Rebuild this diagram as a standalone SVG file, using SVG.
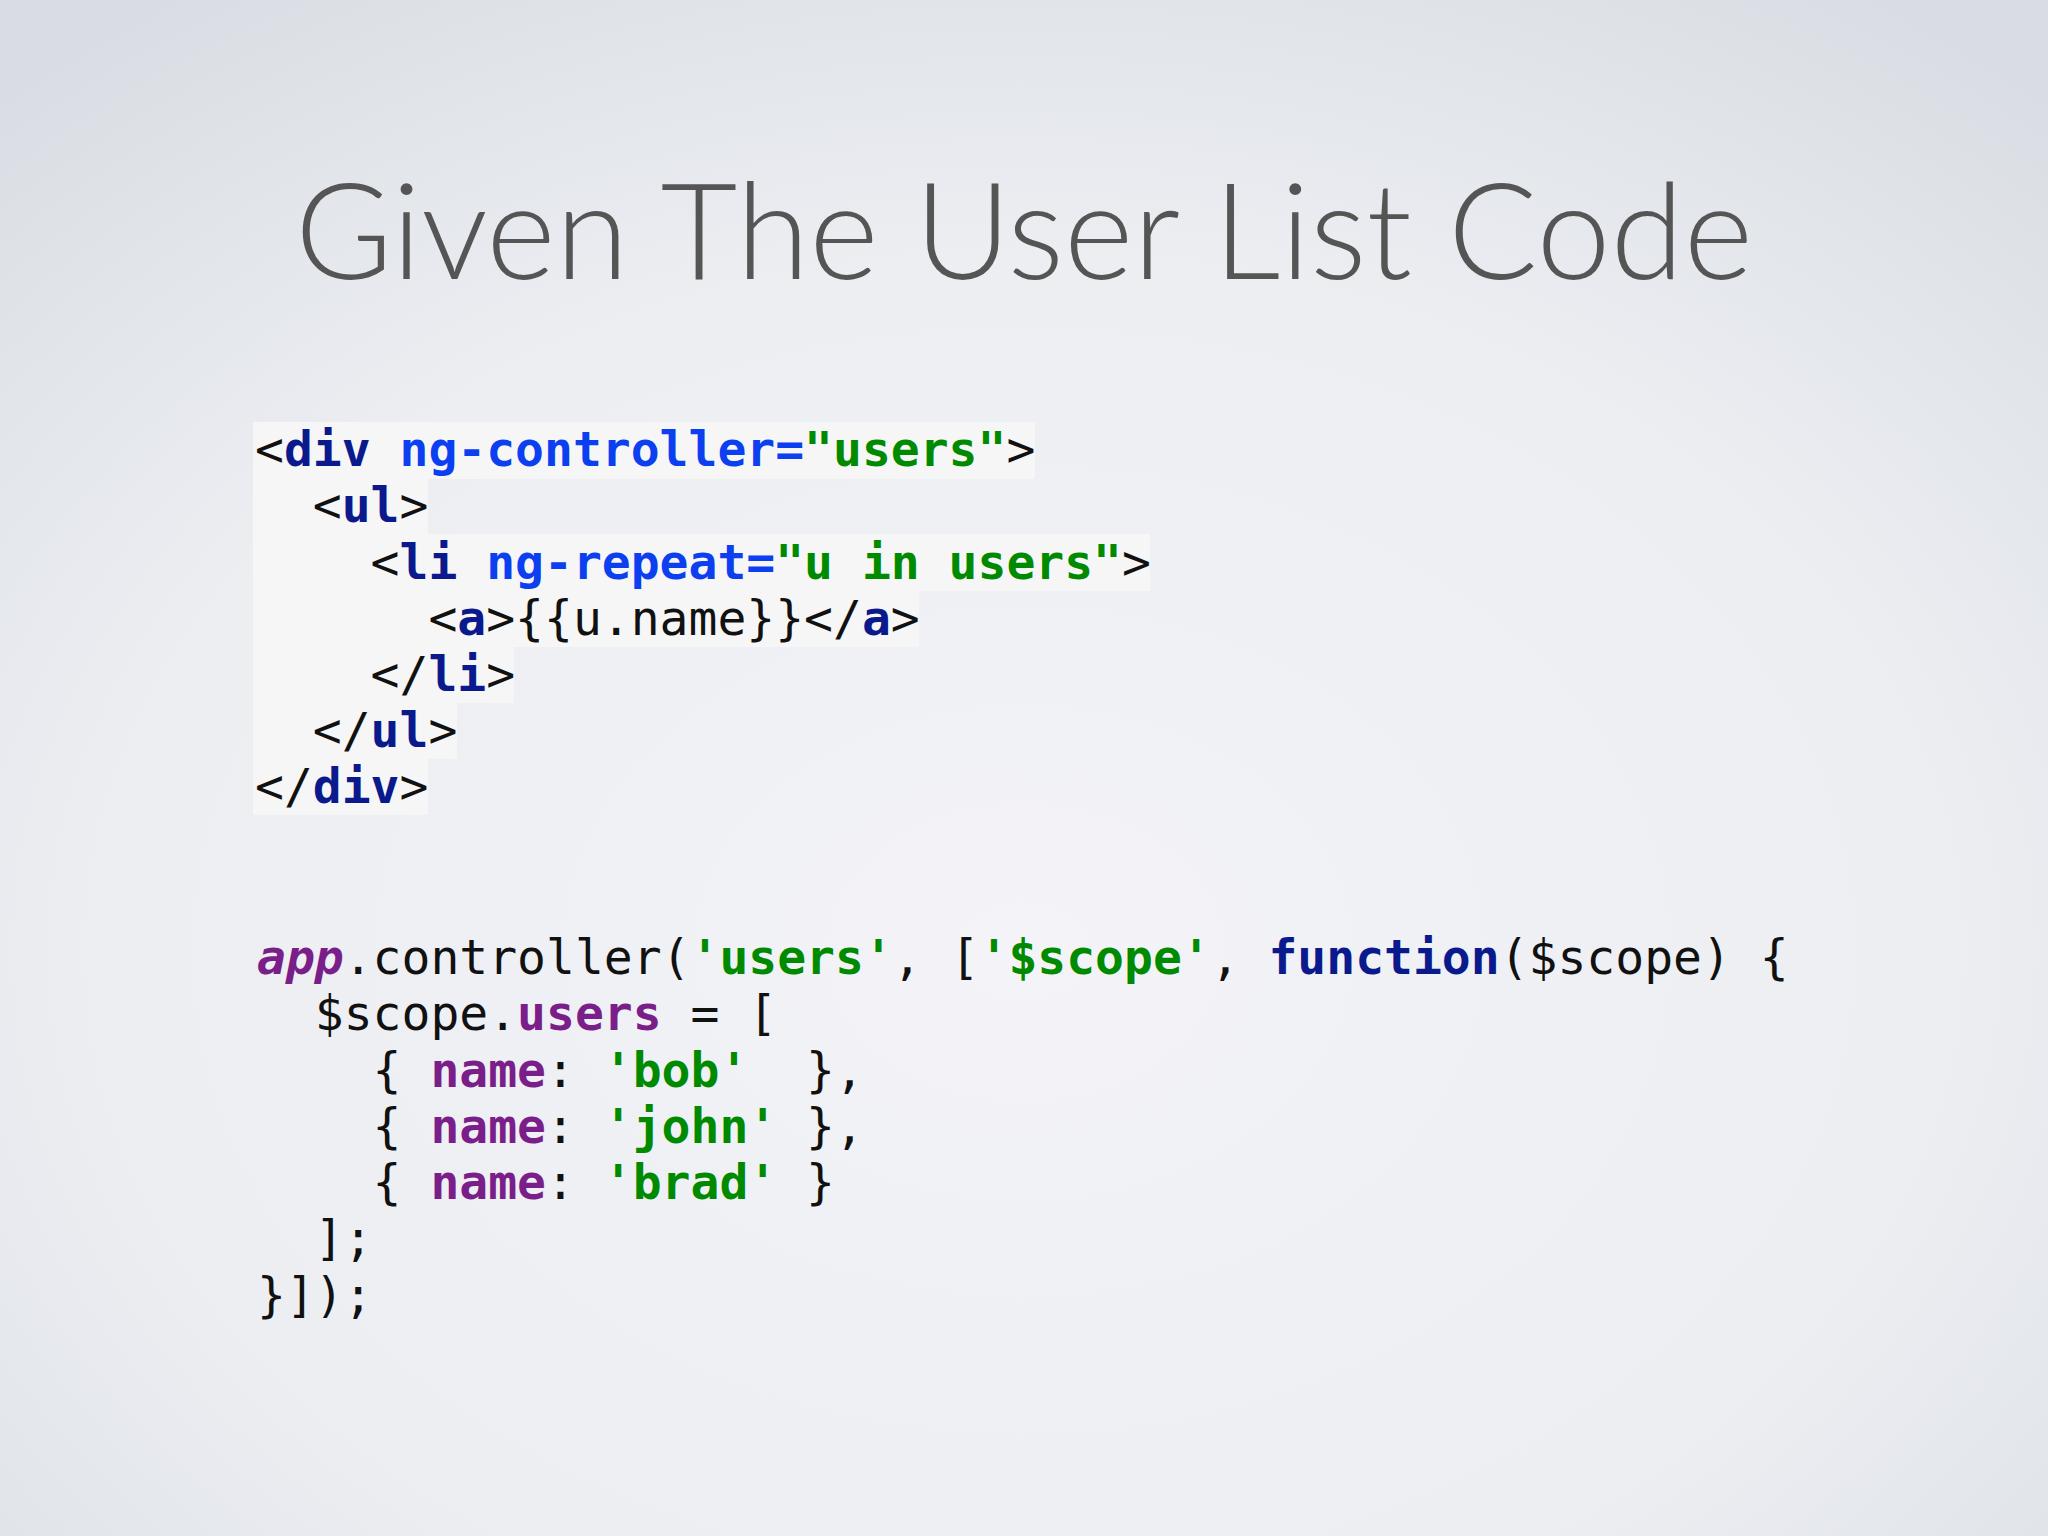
<svg xmlns="http://www.w3.org/2000/svg" width="2048" height="1536" viewBox="0 0 2048 1536">
<defs>
<radialGradient id="bg" cx="0.5" cy="0.62" r="0.75">
<stop offset="0" stop-color="#f3f3f8"/>
<stop offset="0.6" stop-color="#eceef2"/>
<stop offset="1" stop-color="#d9dde3"/>
</radialGradient>
<style>
.c{font-family:"DejaVu Sans Mono",monospace;font-size:48px;fill:#111}
.b{font-weight:bold}
.t{fill:#0a1a8c;font-weight:bold}
.a{fill:#0b3ff0;font-weight:bold}
.s{fill:#008a00;font-weight:bold}
.p{fill:#7a1f8a;font-weight:bold}
.hl{fill:#f6f6f6}
</style>
</defs>
<rect width="2048" height="1536" fill="url(#bg)"/>
<text x="1024" y="279" text-anchor="middle" font-family="Lato, 'Open Sans', sans-serif" font-weight="300" font-size="134" textLength="1458" lengthAdjust="spacingAndGlyphs" fill="#555">Given The User List Code</text>
<g id="html-block">
<rect class="hl" x="253" y="422" width="782" height="57"/>
<rect class="hl" x="253" y="478" width="175" height="57"/>
<rect class="hl" x="253" y="534" width="897" height="57"/>
<rect class="hl" x="253" y="590" width="666" height="57"/>
<rect class="hl" x="253" y="646" width="261" height="57"/>
<rect class="hl" x="253" y="702" width="204" height="57"/>
<rect class="hl" x="253" y="758" width="175" height="57"/>
<text class="c" xml:space="preserve" x="255" y="466">&lt;<tspan class="t">div</tspan> <tspan class="a">ng-controller=</tspan><tspan class="s">"users"</tspan>&gt;</text>
<text class="c" xml:space="preserve" x="255" y="522">  &lt;<tspan class="t">ul</tspan>&gt;</text>
<text class="c" xml:space="preserve" x="255" y="579">    &lt;<tspan class="t">li</tspan> <tspan class="a">ng-repeat=</tspan><tspan class="s">"u in users"</tspan>&gt;</text>
<text class="c" xml:space="preserve" x="255" y="635">      &lt;<tspan class="t">a</tspan>&gt;{{u.name}}&lt;/<tspan class="t">a</tspan>&gt;</text>
<text class="c" xml:space="preserve" x="255" y="691">    &lt;/<tspan class="t">li</tspan>&gt;</text>
<text class="c" xml:space="preserve" x="255" y="747">  &lt;/<tspan class="t">ul</tspan>&gt;</text>
<text class="c" xml:space="preserve" x="255" y="803">&lt;/<tspan class="t">div</tspan>&gt;</text>
</g>
<g id="js-block">
<text class="c" xml:space="preserve" x="257" y="974"><tspan class="p" font-style="italic">app</tspan>.controller(<tspan class="s">'users'</tspan>, [<tspan class="s">'$scope'</tspan>, <tspan class="t">function</tspan>($scope) {</text>
<text class="c" xml:space="preserve" x="257" y="1030">  $scope.<tspan class="p">users</tspan> = [</text>
<text class="c" xml:space="preserve" x="257" y="1087">    { <tspan class="p">name</tspan>: <tspan class="s">'bob'</tspan>  },</text>
<text class="c" xml:space="preserve" x="257" y="1143">    { <tspan class="p">name</tspan>: <tspan class="s">'john'</tspan> },</text>
<text class="c" xml:space="preserve" x="257" y="1199">    { <tspan class="p">name</tspan>: <tspan class="s">'brad'</tspan> }</text>
<text class="c" xml:space="preserve" x="257" y="1255">  ];</text>
<text class="c" xml:space="preserve" x="257" y="1312">}]);</text>
</g>
</svg>
